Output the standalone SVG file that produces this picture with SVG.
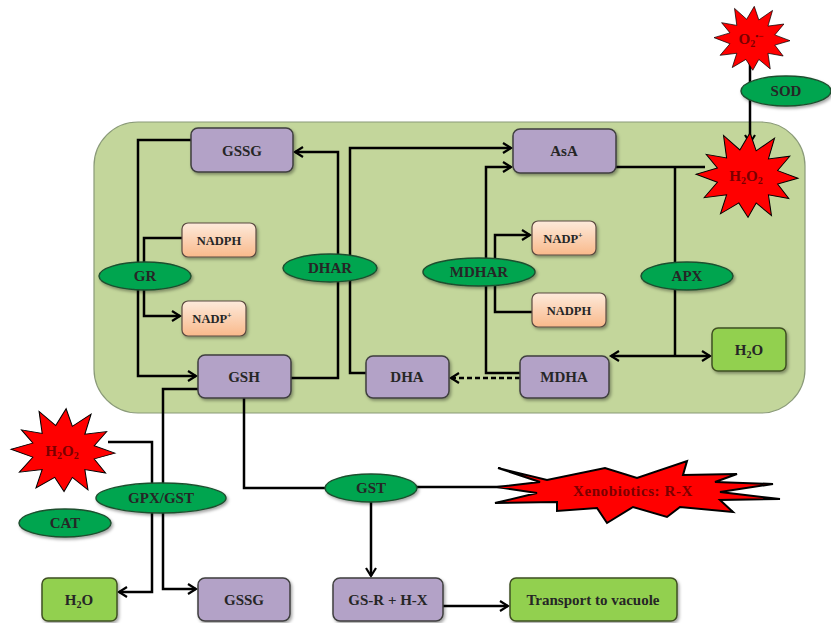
<svg xmlns="http://www.w3.org/2000/svg" xmlns:xlink="http://www.w3.org/1999/xlink" width="831" height="623" viewBox="0 0 831 623">
<style>
.box{fill:#b3a2c7;stroke:#3f3f3f;stroke-width:1.5}
.peach{fill:url(#peach);stroke:#5a4a40;stroke-width:1.2}
.grn{fill:#92d050;stroke:#3f4f22;stroke-width:1.5}
.enz{fill:#00a550;stroke:#1f4f2f;stroke-width:1.5}
.star{fill:#ff0000;stroke:#000;stroke-width:2;vector-effect:non-scaling-stroke}
text{font-family:'Liberation Serif','Times New Roman','DejaVu Serif',serif;font-weight:bold;font-size:15px;text-anchor:middle;fill:#262626}
.ts{font-size:12.5px}
.tr{fill:#7a0000;font-size:15px}
.ln{fill:none;stroke:#000;stroke-width:2.5}
</style>
<defs>
<linearGradient id="peach" x1="0" y1="0" x2="0" y2="1">
<stop offset="0" stop-color="#fdeadb"/>
<stop offset="1" stop-color="#f9b98b"/>
</linearGradient>
<filter id="sh" x="-20%" y="-20%" width="140%" height="150%">
<feDropShadow dx="1.5" dy="2" stdDeviation="1.5" flood-color="#000" flood-opacity="0.35"/>
</filter>
<marker id="ah" markerWidth="14" markerHeight="14" viewBox="-10 -7 14 14" refX="0" refY="0" orient="auto" markerUnits="userSpaceOnUse">
<path d="M-8,-5 L0,0 L-8,5" fill="none" stroke="#000" stroke-width="2.2"/>
</marker>
<polygon id="starp" points="100,5 60,18 82,50 42,42 48,88 18,60 2,92 -16,60 -52,84 -40,42 -84,48 -58,14 -100,-4 -58,-18 -80,-48 -40,-40 -46,-90 -14,-58 6,-96 18,-56 54,-84 42,-38 84,-44 60,-12"/>
</defs>

<rect id="cell" x="94" y="122" width="711" height="291" rx="44" fill="#c3d69b" stroke="#8a9a78" stroke-width="1.2"/>

<g id="connectors">
<path class="ln" d="M191,140 H138 V376 H196" marker-end="url(#ah)"/>
<path class="ln" d="M182,238 H144 V316 H180" marker-end="url(#ah)"/>
<path class="ln" d="M291,378 H338 V152 H295" marker-end="url(#ah)"/>
<path class="ln" d="M366,373 H350 V148 H511" marker-end="url(#ah)"/>
<path class="ln" d="M520,373 H486 V167 H511" marker-end="url(#ah)"/>
<path class="ln" d="M532,312 H495 V235 H530" marker-end="url(#ah)"/>
<path class="ln" d="M520,378 H451" stroke-dasharray="5,3" marker-end="url(#ah)"/>
<path class="ln" d="M616,167 H705"/>
<path class="ln" d="M675,167 V356" stroke-width="3.5"/>
<path class="ln" d="M675,356 H611" marker-end="url(#ah)"/>
<path class="ln" d="M675,356 H710" marker-end="url(#ah)"/>
<path class="ln" d="M750,60 V143" marker-end="url(#ah)"/>
<path class="ln" d="M198,389 H163 V589 H196" marker-end="url(#ah)"/>
<path class="ln" d="M108,442 H152 V592 H119" marker-end="url(#ah)"/>
<path class="ln" d="M244,398 V488 H330"/>
<path class="ln" d="M412,487 H505"/>
<path class="ln" d="M371,500 V576" marker-end="url(#ah)"/>
<path class="ln" d="M443,606 H508" marker-end="url(#ah)"/>
</g>

<g id="GSSG_top"><rect class="box" filter="url(#sh)" x="191" y="128" width="102" height="44" rx="7"/><text x="242" y="156">GSSG</text></g>
<g id="NADPH_left"><rect class="peach" filter="url(#sh)" x="182" y="223" width="74" height="34" rx="6"/><text class="ts" x="219" y="245">NADPH</text></g>
<g id="NADP_left"><rect class="peach" filter="url(#sh)" x="182" y="301" width="64" height="35" rx="6"/><text class="ts" x="212" y="323">NADP<tspan font-size="8" dy="-5">+</tspan></text></g>
<g id="GR"><ellipse class="enz" filter="url(#sh)" cx="145" cy="276" rx="46" ry="14"/><text x="145" y="281">GR</text></g>
<g id="DHAR"><ellipse class="enz" filter="url(#sh)" cx="330" cy="268" rx="47" ry="14"/><text x="330" y="273">DHAR</text></g>
<g id="GSH"><rect class="box" filter="url(#sh)" x="198" y="355" width="93" height="43" rx="7"/><text x="244" y="382">GSH</text></g>
<g id="AsA"><rect class="box" filter="url(#sh)" x="513" y="129" width="103" height="44" rx="7"/><text x="564" y="156">AsA</text></g>
<g id="DHA"><rect class="box" filter="url(#sh)" x="366" y="356" width="83" height="42" rx="7"/><text x="407" y="382">DHA</text></g>
<g id="MDHA"><rect class="box" filter="url(#sh)" x="520" y="356" width="89" height="42" rx="7"/><text x="564" y="382">MDHA</text></g>
<g id="MDHAR"><ellipse class="enz" filter="url(#sh)" cx="479" cy="272" rx="56" ry="14"/><text x="479" y="277">MDHAR</text></g>
<g id="NADP_right"><rect class="peach" filter="url(#sh)" x="532" y="221" width="64" height="34" rx="6"/><text class="ts" x="563" y="243">NADP<tspan font-size="8" dy="-5">+</tspan></text></g>
<g id="NADPH_right"><rect class="peach" filter="url(#sh)" x="532" y="293" width="74" height="34" rx="6"/><text class="ts" x="569" y="315">NADPH</text></g>
<g id="APX"><ellipse class="enz" filter="url(#sh)" cx="687" cy="276" rx="46" ry="14"/><text x="687" y="281">APX</text></g>
<g id="H2O_right"><rect class="grn" filter="url(#sh)" x="712" y="328" width="74" height="43" rx="6"/><text x="749" y="355">H<tspan font-size="10" dy="3">2</tspan><tspan dy="-3">O</tspan></text></g>
<g id="H2O2_in"><use href="#starp" class="star" transform="translate(747,176) scale(0.51,0.45)"/><text class="tr" x="746" y="181">H<tspan font-size="10" dy="3">2</tspan><tspan dy="-3">O</tspan><tspan font-size="10" dy="3">2</tspan></text></g>
<g id="O2"><use href="#starp" class="star" transform="translate(752,39) scale(0.38,0.34)"/><text class="tr" x="751" y="44">O<tspan font-size="10" dy="3">2</tspan><tspan font-size="9" dy="-8">•−</tspan></text></g>
<g id="SOD"><ellipse class="enz" filter="url(#sh)" cx="786" cy="91" rx="45" ry="15"/><text x="786" y="96">SOD</text></g>
<g id="H2O2_out"><use href="#starp" class="star" transform="translate(63,451) scale(0.52,0.44)"/><text class="tr" x="62" y="456">H<tspan font-size="10" dy="3">2</tspan><tspan dy="-3">O</tspan><tspan font-size="10" dy="3">2</tspan></text></g>
<g id="GPX_GST"><ellipse class="enz" filter="url(#sh)" cx="161" cy="498" rx="65" ry="15"/><text x="161" y="503">GPX/GST</text></g>
<g id="CAT"><ellipse class="enz" filter="url(#sh)" cx="65" cy="523" rx="46" ry="14"/><text x="65" y="528">CAT</text></g>
<g id="GST"><ellipse class="enz" filter="url(#sh)" cx="371" cy="488" rx="46" ry="14"/><text x="371" y="493">GST</text></g>
<g id="Xeno"><polygon class="star" points="498,468 547,480 605,468 637,478 687,461 683,475 737,474 715,482 773,484 720,492 780,499 720,500 733,512 680,507 667,517 633,507 607,523 597,508 557,511 557,502 495,503 537,493 497,487 540,482"/><text class="tr" x="633" y="496" font-size="14" letter-spacing="0.6">Xenobiotics: R-X</text></g>
<g id="H2O_bottom"><rect class="grn" filter="url(#sh)" x="42" y="578" width="75" height="43" rx="6"/><text x="79" y="605">H<tspan font-size="10" dy="3">2</tspan><tspan dy="-3">O</tspan></text></g>
<g id="GSSG_bottom"><rect class="box" filter="url(#sh)" x="198" y="578" width="92" height="43" rx="7"/><text x="244" y="605">GSSG</text></g>
<g id="GSR_HX"><rect class="box" filter="url(#sh)" x="333" y="578" width="110" height="43" rx="7"/><text x="388" y="605">GS-R + H-X</text></g>
<g id="Transport"><rect class="grn" filter="url(#sh)" x="510" y="578" width="167" height="43" rx="6"/><text x="593" y="605">Transport to vacuole</text></g>
</svg>
